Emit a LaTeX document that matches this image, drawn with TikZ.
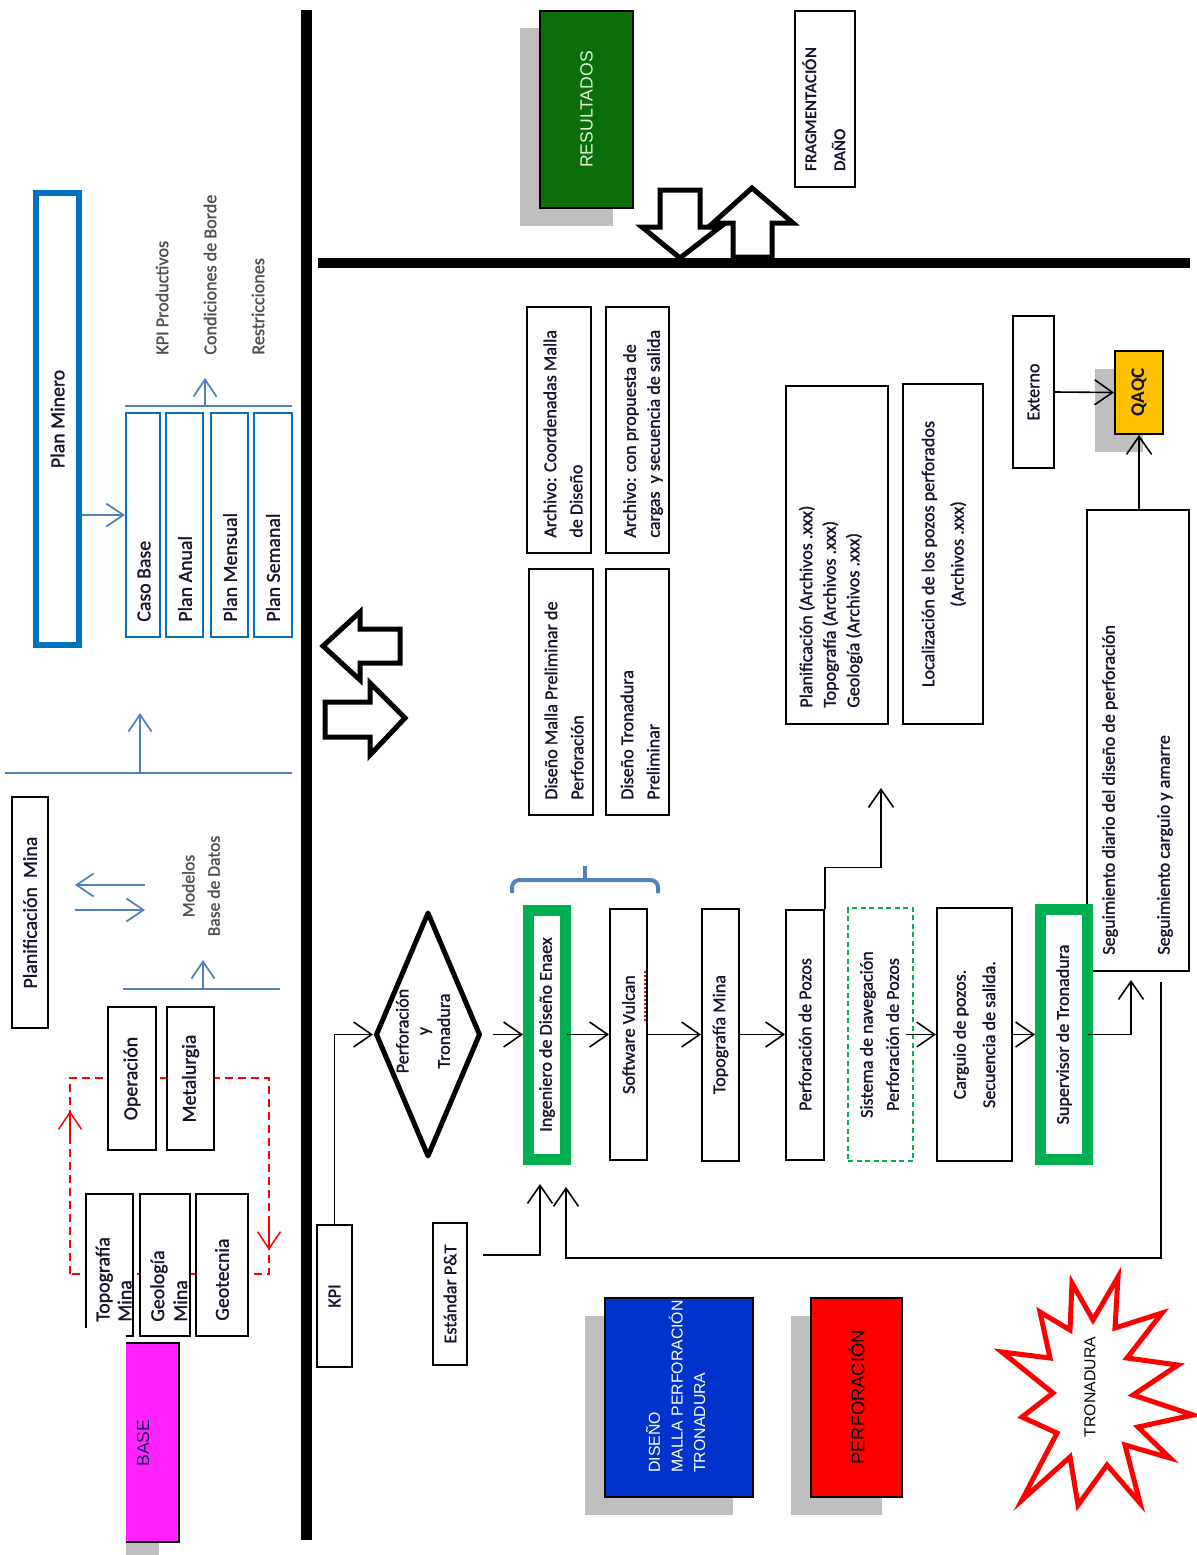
\documentclass[tikz,border=0pt]{standalone}
\usepackage{graphicx}
\usepackage{fontspec}
\setmainfont{Carlito}[UprightFeatures={FakeBold=1.2}]
\newfontfamily\arialf{Liberation Sans}
\usetikzlibrary{arrows.meta,shapes.geometric,calc,shadows}

\definecolor{txt}{HTML}{14142A}
\definecolor{lite}{HTML}{505050}
\definecolor{pblue}{HTML}{0070C0}
\definecolor{lblue}{HTML}{4F81BD}
\definecolor{egreen}{HTML}{00B050}
\definecolor{dgreen}{HTML}{0B6E0B}
\definecolor{resgreen}{HTML}{E0F5D8}
\definecolor{mag}{HTML}{FF22FF}
\definecolor{dblue}{HTML}{0033CC}
\definecolor{amber}{HTML}{FFC000}
\definecolor{shade}{HTML}{BFBFBF}
\definecolor{basetxt}{HTML}{1A1A50}

% rotated labels (read bottom to top)
\newcommand{\rt}[1]{\rotatebox{90}{#1}}
\newcommand{\rtl}[2][1.2]{\rotatebox{90}{\def\arraystretch{#1}\begin{tabular}{@{}l@{}}#2\end{tabular}}}
\newcommand{\rtc}[2][1.2]{\rotatebox{90}{\def\arraystretch{#1}\begin{tabular}{@{}c@{}}#2\end{tabular}}}

\tikzset{
  fs/.style={font=\fontsize{10.3}{12.4}\selectfont},
  fl/.style={font=\fontsize{11.3}{13.6}\selectfont},
  box/.style={draw=black, line width=0.4mm, fill=white, inner sep=0pt, text=txt, fs},
  bbox/.style={draw=pblue, line width=0.45mm, fill=white, inner sep=0pt, text=txt, fl},
  gbox/.style={draw=egreen, line width=2.2mm, fill=white, inner sep=0pt, text=txt, fs},
  lbl/.style={inner sep=0pt, text=txt, fs},
  arr/.style={draw=black, line width=0.32mm, -{Straight Barb[length=3.6mm,width=5mm]}},
  barr/.style={draw=lblue, line width=0.35mm, -{Straight Barb[length=3.4mm,width=4.6mm]}},
  rarr/.style={draw=red, line width=0.3mm, -{Straight Barb[length=3.4mm,width=4.6mm]}},
  bline/.style={draw=lblue, line width=0.35mm},
  rline/.style={draw=red, line width=0.3mm, dash pattern=on 1.6mm off 1mm},
  blockarrow/.style={draw=black, fill=white, line width=1mm, line join=miter},
  heavy/.style={draw=black, line width=2.2mm},
  castshadow/.style={drop shadow={shadow xshift=-4mm, shadow yshift=-3.5mm, fill=shade, opacity=1}},
}

\begin{document}
\begin{tikzpicture}[x=0.2mm,y=-0.2mm]
\useasboundingbox (0,0) rectangle (1197,1555);
\fill[white] (0,0) rectangle (1197,1555);

% ---------- dividing bars ----------
\coordinate (vtop) at (306,10);
\coordinate (vbot) at (306,1540);
\draw[heavy] (vtop) -- (vbot);
\coordinate (hleft) at (318,263);
\coordinate (hright) at (1190,263);
\draw[heavy, line width=2mm] (hleft) -- (hright);

% ---------- planning column ----------
\node[draw=pblue, line width=1.2mm, fill=white, inner sep=0pt, minimum width=8.6mm,
      minimum height=90.4mm, text=txt, fl] (planminero) at (57.5,419) {\rt{Plan Minero}};

\node[bbox, minimum width=6.8mm, minimum height=44.8mm] (casobase) at (143,525) {};
\node[bbox, minimum width=7.4mm, minimum height=44.8mm] (plananual) at (184.5,525) {};
\node[bbox, minimum width=7.4mm, minimum height=44.8mm] (planmensual) at (229.5,525) {};
\node[bbox, minimum width=7.6mm, minimum height=44.8mm] (plansemanal) at (273,525) {};
\node[lbl, fl, anchor=south] (tcaso) at (144,622) {\rt{Caso Base}};
\node[lbl, fl, anchor=south] (tanual) at (185,622) {\rt{Plan Anual}};
\node[lbl, fl, anchor=south] (tmensual) at (230,622) {\rt{Plan Mensual}};
\node[lbl, fl, anchor=south] (tsemanal) at (273,622) {\rt{Plan Semanal}};

\coordinate (pmout) at ($(casobase.west)+(0,-10)$);
\draw[barr] (planminero.east |- pmout) -- (pmout);

\coordinate (bl1) at (125,406);
\coordinate (br1) at (292,406);
\draw[bline] (bl1) -- (br1);
\coordinate (up1s) at (205,406);
\coordinate (up1e) at (205,378);
\draw[barr] (up1s) -- (up1e);

\node[lbl, text=lite, anchor=south] (kpiprod) at (162,355) {\rt{KPI Productivos}};
\node[lbl, text=lite, anchor=south] (condborde) at (210,355) {\rt{Condiciones de Borde}};
\node[lbl, text=lite, anchor=south] (restric) at (258,355) {\rt{Restricciones}};

\coordinate (bl2) at (5,773);
\coordinate (br2) at (292,773);
\draw[bline] (bl2) -- (br2);
\coordinate (up2s) at (140,773);
\coordinate (up2e) at (140,713);
\draw[barr] (up2s) -- (up2e);

\node[box, fl, minimum width=7.2mm, minimum height=46.2mm] (planmina) at (30,912.5) {\rt{Planificación\ \ Mina}};

\coordinate (la1) at (145,885);
\coordinate (la2) at (75,885);
\draw[barr] (la1) -- (la2);
\coordinate (ra1) at (75,910);
\coordinate (ra2) at (145,910);
\draw[barr] (ra1) -- (ra2);
\node[lbl, text=lite, font=\fontsize{10}{12}\selectfont] (modelos) at (202,886) {\rtc{Modelos\\Base de Datos}};

\coordinate (bl3) at (123,989);
\coordinate (br3) at (280,989);
\draw[bline] (bl3) -- (br3);
\coordinate (up3s) at (203,989);
\coordinate (up3e) at (203,960);
\draw[barr] (up3s) -- (up3e);

% dashed feedback loop between the data sources
\coordinate (rA) at (70,1274);
\coordinate (rB) at (70,1078);
\coordinate (rC) at (269,1078);
\coordinate (rD) at (269,1274);
\draw[rline] (rA) -- (rB) -- (rC) -- (rD) -- cycle;
\coordinate (rupS) at (70,1140);
\coordinate (rupE) at (70,1111);
\draw[rarr] (rupS) -- (rupE);
\coordinate (rdnS) at (269,1222);
\coordinate (rdnE) at (269,1250);
\draw[rarr] (rdnS) -- (rdnE);

\node[box, fl, minimum width=9.6mm, minimum height=28.6mm] (operacion) at (132,1078.5) {\rt{Operación}};
\node[box, fl, minimum width=9.4mm, minimum height=28.6mm] (metalurgia) at (190.5,1078.5) {\rt{Metalurgia}};
\node[box, minimum width=9.4mm, minimum height=28.4mm] (topoleft) at (109.5,1265) {};
\node[box, minimum width=10mm, minimum height=28.4mm] (geologia) at (165,1265) {};
\node[box, minimum width=10.4mm, minimum height=28.4mm] (geotecnia) at (222,1265) {};
\node[lbl, fl, anchor=south] (ttopo) at (116,1322) {\rtl[0.92]{Topografía\\Mina}};
\node[lbl, fl, anchor=south] (tgeo) at (171,1322) {\rtl[0.96]{Geología\\Mina}};
\node[lbl, fl, anchor=south] (tgeot) at (222,1321) {\rt{Geotecnia}};

% BASE tab
\node[fill=mag, inner sep=0pt, minimum width=10.6mm, minimum height=39.8mm, castshadow] (base) at (152.5,1442.5) {};
\fill[white] (0,1328) rectangle (126,1555);
\draw[line width=0.4mm] (base.north west) -- (base.north east) -- (base.south east) -- (base.south west);
\node[lbl, text=basetxt, font=\arialf\fontsize{10}{12}\selectfont] (basetxt) at (143,1443) {\rt{BASE}};

% ---------- drilling and blasting column ----------
\node[box, minimum width=7mm, minimum height=28.4mm] (kpi) at (334.5,1296) {\rt{KPI}};
\node[box, minimum width=6.8mm, minimum height=28.4mm] (estandar) at (450,1294) {\rt{Estándar P\&T}};

\node[draw=black, diamond, line width=1mm, line join=round, fill=white, inner sep=0pt,
      minimum width=21mm, minimum height=49mm] (decision) at (428,1034.5) {};
\node[lbl] (dectxt) at (425,1031) {\rtc[0.95]{Perforación\\y\\Tronadura}};

\node[gbox, minimum width=7.4mm, minimum height=49.8mm] (ingeniero) at (547,1034.5) {\rt{Ingeniero de Diseño Enaex}};
\node[box, minimum width=7.4mm, minimum height=50.2mm] (vulcan) at (628.5,1034.5) {\rt{Software Vulcan}};
\node[box, minimum width=7.4mm, minimum height=50.4mm] (topomina) at (720.5,1034.5) {\rt{Topografía Mina}};
\node[box, minimum width=7.6mm, minimum height=50mm] (perfpozos) at (805,1034.5) {\rt{Perforación de Pozos}};
\node[draw=egreen, line width=0.3mm, dash pattern=on 1mm off 0.7mm, fill=white, inner sep=0pt,
      minimum width=13mm, minimum height=50.6mm, text=txt, fs] (sistema) at (880.5,1034.5)
      {\rtc{Sistema de navegación\\Perforación de Pozos}};
\node[box, minimum width=15mm, minimum height=50.6mm] (carguio) at (974.5,1034.5) {\rtc[1.35]{Carguio de pozos.\\Secuencia de salida.}};

\node[box, minimum width=20.4mm, minimum height=92.2mm] (seguimiento) at (1138,740.5) {};
\node[lbl, anchor=south] (seg1) at (1110,955) {\rt{Seguimiento diario del diseño de perforación}};
\node[lbl, anchor=south] (seg2) at (1165,955) {\rt{Seguimiento carguio y amarre}};

\node[gbox, minimum width=9.4mm, minimum height=50mm] (supervisor) at (1064,1034.5) {\rt{Supervisor de Tronadura}};

% spell-check mark under "Vulcan"
\draw[red, line width=0.3mm, dash pattern=on 0.4mm off 0.4mm] ($(vulcan.east)+(-3,-64)$) -- ($(vulcan.east)+(-3,-13)$);

% bracket over design stage
\coordinate (brL) at (512,893);
\coordinate (brR) at (658,893);
\coordinate (brM) at (585,866);
\draw[draw=lblue, line width=0.8mm, rounded corners=1.5mm] (brL) -- (512,880) -- (658,880) -- (brR);
\draw[draw=lblue, line width=0.8mm] (585,880) -- (brM);

% design files
\node[box, minimum width=12.8mm, minimum height=49.2mm] (archivo1) at (559,430) {};
\node[box, minimum width=12.6mm, minimum height=49.2mm] (archivo2) at (637.5,430) {};
\node[box, minimum width=12.8mm, minimum height=49.2mm] (disenomalla) at (561,692) {};
\node[box, minimum width=12.6mm, minimum height=49.2mm] (disenotron) at (637.5,692) {};
\node[lbl, anchor=south] (tarch1) at (564,538) {\rtl[1.2]{Archivo: Coordenadas Malla\\de Diseño}};
\node[lbl, anchor=south] (tarch2) at (643,538) {\rtl[1.1]{Archivo: con propuesta de\\cargas\ \ y secuencia de salida}};
\node[lbl, anchor=south] (tdmalla) at (565,800) {\rtl[1.2]{Diseño Malla Preliminar de\\Perforación}};
\node[lbl, anchor=south] (tdtron) at (641,800) {\rtl[1.2]{Diseño Tronadura\\Preliminar}};

\node[box, minimum width=20.4mm, minimum height=67.6mm] (planif) at (837,555) {};
\node[lbl, anchor=south] (tplanif) at (831,708) {\rtl[1.08]{Planificación (Archivos .xxx)\\Topografía (Archivos .xxx)\\Geología (Archivos .xxx)}};
\node[box, minimum width=16mm, minimum height=68mm] (localiz) at (943,554) {\rtc[1.35]{Localización de los pozos perforados\\(Archivos .xxx)}};

\node[box, minimum width=8.2mm, minimum height=30.4mm] (externo) at (1033.5,392) {\rt{Externo}};
\node[box, fill=amber, castshadow, font=\bfseries\fontsize{11}{13}\selectfont,
      minimum width=9.6mm, minimum height=16.6mm] (qaqc) at (1139,392.5) {\rt{QAQC}};

% ---------- results ----------
\node[draw=black, line width=0.3mm, fill=dgreen, castshadow, inner sep=0pt, minimum width=18.6mm,
      minimum height=39.4mm, text=resgreen, font=\arialf\fontsize{10}{12}\selectfont] (resultados) at (586.5,109.5) {\rt{RESULTADOS}};
\node[box, minimum width=12mm, minimum height=35.2mm] (fragment) at (825,99) {};
\node[lbl, font=\bfseries\fontsize{9.5}{11.4}\selectfont, anchor=south] (fragtxt) at (825,172) {\rtl[1.45]{FRAGMENTACIÓN\\DAÑO}};

% ---------- legend ----------
\node[draw=black, line width=0.3mm, fill=dblue, castshadow, inner sep=0pt, minimum width=29.6mm,
      minimum height=39.8mm] (diseno) at (679,1397.5) {};
\node[lbl, text=white, font=\arialf\fontsize{9}{10.7}\selectfont, anchor=south] (disenotxt) at (678,1473)
      {\rtl{DISEÑO\\MALLA PERFORACIÓN\\TRONADURA}};
\node[draw=black, line width=0.3mm, fill=red, castshadow, inner sep=0pt, minimum width=18.2mm,
      minimum height=39.8mm, text=black, font=\arialf\fontsize{10.4}{12.5}\selectfont] (perforacion) at (856.5,1397.5) {\rt{PERFORACIÓN}};

\draw[draw=red, line width=1mm, line join=miter, fill=white]
  (1040,1312) -- (1070,1330) -- (1072,1283) -- (1093,1320) -- (1118,1277) -- (1115,1328)
  -- (1162,1313) -- (1127,1358) -- (1178,1365) -- (1133,1395) -- (1193,1415) -- (1138,1427)
  -- (1170,1458) -- (1125,1445) -- (1140,1503) -- (1107,1465) -- (1078,1505) -- (1070,1457)
  -- (1022,1500) -- (1057,1433) -- (1022,1417) -- (1053,1393) -- (1002,1352) -- (1050,1358) -- cycle;
\node[lbl, text=black, font=\arialf\fontsize{9}{11}\selectfont] (tronadura) at (1090,1387) {\rt{TRONADURA}};

% ---------- exchange arrows ----------
\draw[blockarrow] (323,646) -- (360,612) -- (360,629) -- (400,629) -- (400,663) -- (360,663) -- (360,680) -- cycle;
\draw[blockarrow] (325,702) -- (370,702) -- (370,683) -- (405,718) -- (370,755) -- (370,737) -- (325,737) -- cycle;
\draw[blockarrow] (660,190) -- (700,190) -- (700,227) -- (720,227) -- (680,258) -- (642,227) -- (660,227) -- cycle;
\draw[blockarrow] (733,257) -- (733,223) -- (713,223) -- (752,188) -- (793,223) -- (772,223) -- (772,257) -- cycle;

% ---------- connectors ----------
\draw[arr] (kpi.north) |- (decision.west);
\draw[arr] ([xshift=2mm]decision.east) -- (ingeniero.west);
\draw[arr] ([xshift=-0.8mm]ingeniero.east) -- (vulcan.west);
\draw[arr] (vulcan.east) -- (topomina.west);
\draw[arr] (topomina.east) -- (perfpozos.west);
\coordinate (perfout) at (881,788);
\draw[arr] (perfpozos.north east) -- ++(0,-41) -| (perfout);
\draw[arr] ([xshift=-1.6mm]sistema.east) -- (carguio.west);
\draw[arr] (carguio.east) -- (supervisor.west);
\coordinate (segin) at (1131,980);
\draw[arr] ([xshift=-1mm]supervisor.east) -| (segin);
\draw[arr] (seguimiento.north -| qaqc.south) -- (qaqc.south);
\draw[arr] (externo.east) -- (qaqc.west);
\coordinate (fbstart) at (1161,982);
\coordinate (fbend) at (566,1187);
\draw[arr] (fbstart) -- ++(0,276) -| (fbend);
\coordinate (stdout) at (483,1255);
\coordinate (stdin) at (540,1184);
\draw[arr] (stdout) -| (stdin);

\end{tikzpicture}
\end{document}
